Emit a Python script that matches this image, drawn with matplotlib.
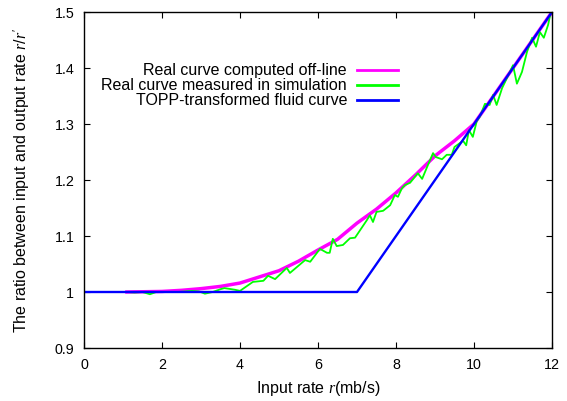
#!/usr/bin/env python3
"""Ratio between input and output rate vs input rate."""

import matplotlib
matplotlib.use("Agg")
import matplotlib.pyplot as plt

plt.rcParams["font.family"] = ["Liberation Sans", "DejaVu Sans"]
plt.rcParams["mathtext.fontset"] = "custom"
plt.rcParams["mathtext.it"] = "Liberation Serif:italic"
plt.rcParams["mathtext.rm"] = "Liberation Sans"

# real curve computed off-line
offline_x = [1.1, 2.0, 2.5, 3.0, 3.5, 4.0, 4.5, 5.0, 5.5, 6.0, 6.5, 7.0, 7.5,
             8.0, 8.5, 9.0, 9.5, 10.0, 11.0, 12.0]
offline_y = [1.0, 1.001, 1.003, 1.006, 1.01, 1.016, 1.027, 1.038, 1.055, 1.075,
             1.094, 1.123, 1.148, 1.177, 1.209, 1.243, 1.27, 1.30, 1.40, 1.50]

# real curve measured in simulation
sim_x = [1.1, 1.3, 1.5, 1.69, 1.85, 2.1, 2.4, 2.77, 2.95, 3.1, 3.3, 3.5, 3.6,
         3.87, 4.0, 4.33, 4.6, 4.72, 4.9, 5.2, 5.28, 5.67, 5.8, 6.05, 6.23, 6.3,
         6.38, 6.48, 6.64, 6.82, 6.95, 7.25, 7.33, 7.41, 7.5, 7.67, 7.85, 7.97,
         8.05, 8.15, 8.23, 8.36, 8.56, 8.67, 8.82, 8.95, 9.02, 9.18, 9.3, 9.43,
         9.5, 9.72, 9.8, 9.87, 9.97, 10.07, 10.15, 10.28, 10.4, 10.49, 10.58,
         10.72, 10.92, 11.0, 11.1, 11.23, 11.36, 11.49, 11.59, 11.69, 11.79,
         11.9, 11.97]
sim_y = [1.0, 0.999, 1.0, 0.996, 1.0, 1.0, 1.0, 1.002, 1.001, 0.997, 1.0, 1.005,
         1.007, 1.004, 1.002, 1.018, 1.02, 1.029, 1.023, 1.043, 1.034, 1.057,
         1.054, 1.077, 1.07, 1.07, 1.095, 1.082, 1.084, 1.096, 1.097, 1.128,
         1.137, 1.125, 1.143, 1.145, 1.155, 1.173, 1.17, 1.185, 1.191, 1.195,
         1.212, 1.202, 1.227, 1.248, 1.241, 1.237, 1.245, 1.245, 1.259, 1.27,
         1.262, 1.289, 1.277, 1.305, 1.313, 1.336, 1.334, 1.352, 1.334, 1.364,
         1.393, 1.405, 1.372, 1.393, 1.429, 1.454, 1.438, 1.464, 1.454, 1.477,
         1.5]

# TOPP-transformed fluid curve
fluid_x = [0.0, 7.0, 12.0]
fluid_y = [1.0, 1.0, 1.5]

x_ticks = [0, 2, 4, 6, 8, 10, 12]
y_ticks = [0.9, 1.0, 1.1, 1.2, 1.3, 1.4, 1.5]
y_tick_labels = ["0.9", "1", "1.1", "1.2", "1.3", "1.4", "1.5"]


def main() -> int:
    fig = plt.figure(figsize=(5.67, 4.01), dpi=100)
    ax = fig.add_axes([84 / 567, 53 / 401, 468 / 567, 336 / 401])

    ax.plot(offline_x, offline_y, color="#ff00ff", lw=2.5,
            label="Real curve computed off-line")
    ax.plot(sim_x, sim_y, color="#00ff00", lw=1.3,
            label="Real curve measured in simulation")
    ax.plot(fluid_x, fluid_y, color="#0000ff", lw=1.7,
            label="TOPP-transformed fluid curve")

    ax.set_xlim(0, 12)
    ax.set_ylim(0.9, 1.5)
    ax.set_xticks(x_ticks)
    ax.set_yticks(y_ticks)
    ax.set_yticklabels(y_tick_labels)
    ax.tick_params(direction="in", top=True, right=True, length=4, width=0.8,
                   labelsize=10.3, pad=7)
    for spine in ax.spines.values():
        spine.set_linewidth(1.0)

    ax.set_xlabel("Input rate $r$(mb/s)", fontsize=11.5, labelpad=5)
    ax.set_ylabel("The ratio between input and output rate $r/r'$",
                  fontsize=11.5, labelpad=16)

    leg = ax.legend(loc="upper right", bbox_to_anchor=(0.671, 0.847),
                    frameon=False, markerfirst=False, fontsize=11.5,
                    handlelength=2.56, handletextpad=0.63, labelspacing=0.0,
                    borderpad=0, borderaxespad=0)
    for text in leg.get_texts():
        text.set_ha("right")
    for line in leg.get_lines():
        line.set_linewidth(2.0)

    fig.savefig("out.png", dpi=100)
    plt.close(fig)
    return 0


if __name__ == "__main__":
    raise SystemExit(main())
